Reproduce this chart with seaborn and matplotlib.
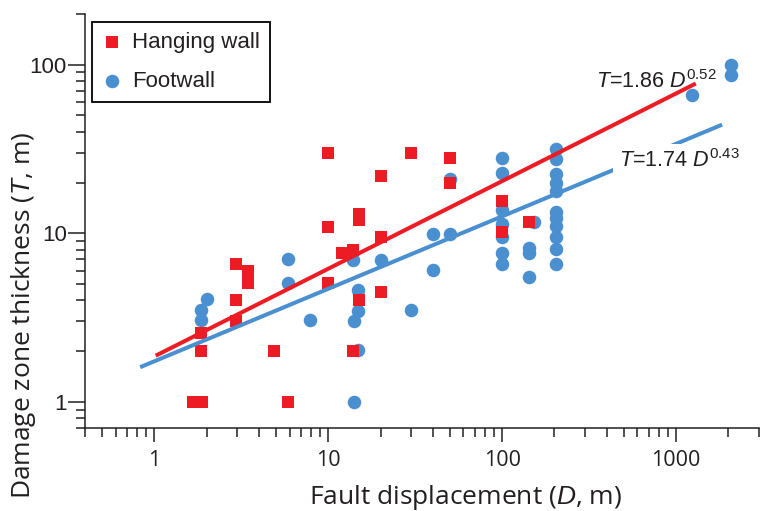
import matplotlib
matplotlib.use('Agg')
import matplotlib.pyplot as plt
import seaborn as sns
import numpy as np
import pandas as pd
from matplotlib.ticker import LogLocator, FuncFormatter, NullFormatter

# ---------------- data ----------------
hw_D = [1.68, 1.88, 1.86, 1.86, 2.97, 2.97, 2.97, 3.45, 3.45, 4.9, 5.9,
        10, 10, 10, 12.0, 13.9, 13.9, 15, 15, 15, 20, 20, 20, 30, 50, 50,
        100, 100, 143]
hw_T = [1.0, 1.0, 2.0, 2.57, 3.0, 4.0, 6.6, 6.0, 5.06, 2.0, 1.0,
        10.9, 5.06, 30, 7.66, 8.0, 2.0, 13.1, 12.0, 4.0, 21.9, 9.5, 4.5, 30, 28, 20,
        15.6, 10.2, 11.7]

fw_D = [1.85, 1.85, 2.0, 5.9, 5.9, 7.84, 13.9, 14.1, 14.9, 14.9, 14.9, 14.0,
        20, 30, 40, 40, 50.5, 50.5,
        100, 100, 100, 100, 100, 100, 100,
        152, 143, 143, 143,
        205, 205, 205, 205, 205, 205, 205, 205, 205, 205, 205,
        1237, 2060, 2060]
fw_T = [3.04, 3.52, 4.07, 7.03, 5.06, 3.05, 6.94, 3.03, 4.58, 3.44, 2.03, 1.0,
        6.94, 3.52, 9.96, 6.06, 9.96, 21.0,
        28.1, 22.9, 13.7, 11.4, 9.5, 7.6, 6.58,
        11.7, 8.13, 7.6, 5.53,
        31.5, 27.5, 22.6, 20.0, 17.9, 13.3, 12.4, 11.0, 9.5, 8.05, 6.57,
        66.3, 99.6, 87]

# power-law fits T = a * D^b, drawn over the D range shown
hw_fit = {'a': 1.86, 'b': 0.52, 'D': [1.02, 1300]}
fw_fit = {'a': 1.74, 'b': 0.43, 'D': [0.83, 1840]}

# ---------------- style ----------------
sns.set_style('ticks')
plt.rcParams['font.family'] = ['Liberation Sans', 'DejaVu Sans']
plt.rcParams['mathtext.fontset'] = 'custom'
plt.rcParams['mathtext.rm'] = 'Liberation Sans'
plt.rcParams['mathtext.it'] = 'Liberation Sans:italic'
plt.rcParams['mathtext.bf'] = 'Liberation Sans:bold'

RED = '#ED1C24'
BLUE = '#4A8FD0'
INK = '#231F20'

fig = plt.figure(figsize=(7.6, 5.11), dpi=100)
ax = fig.add_axes([85 / 760, 83 / 511, 674 / 760, 414 / 511])
ax.set_xscale('log')
ax.set_yscale('log')

hw = pd.DataFrame({'D': hw_D, 'T': hw_T})
fw = pd.DataFrame({'D': fw_D, 'T': fw_T})

sns.scatterplot(data=fw, x='D', y='T', marker='o', s=95, color=BLUE,
                linewidth=0, label='Footwall', zorder=3, ax=ax)
sns.scatterplot(data=hw, x='D', y='T', marker='s', s=80, color=RED,
                linewidth=0, label='Hanging wall', zorder=4, ax=ax)

for fit, col in ((hw_fit, RED), (fw_fit, BLUE)):
    d = np.array(fit['D'], dtype=float)
    t = fit['a'] * d ** fit['b']
    sns.lineplot(x=d, y=t, color=col, linewidth=2.9, zorder=5, ax=ax,
                 solid_capstyle='butt')

ax.text(345, 73, r'$T$=1.86 $D^{0.52}$', fontsize=15.5, color=INK,
        ha='left', va='baseline', zorder=6)
ax.text(469, 24.8, r'$T$=1.74 $D^{0.43}$', fontsize=15.5, color=INK,
        ha='left', va='baseline', zorder=6,
        bbox=dict(boxstyle='square,pad=0.25', fc='white', ec='none'))

ax.set_xlim(0.4, 3000)
ax.set_ylim(0.7, 200)

fmt = FuncFormatter(lambda v, p: f'{v:g}')
ax.xaxis.set_major_locator(LogLocator(base=10, subs=(1.0,)))
ax.xaxis.set_minor_locator(LogLocator(base=10, subs=np.arange(2, 10), numticks=20))
ax.yaxis.set_major_locator(LogLocator(base=10, subs=(1.0,)))
ax.yaxis.set_minor_locator(LogLocator(base=10, subs=np.arange(2, 10), numticks=20))
ax.xaxis.set_major_formatter(fmt)
ax.yaxis.set_major_formatter(fmt)
ax.xaxis.set_minor_formatter(NullFormatter())
ax.yaxis.set_minor_formatter(NullFormatter())

for s in ('top', 'right'):
    ax.spines[s].set_visible(False)
for s in ('left', 'bottom'):
    ax.spines[s].set_linewidth(1.1)
    ax.spines[s].set_color(INK)

ax.tick_params(axis='x', which='major', length=10, width=1.1, color=INK,
               labelsize=15.5, labelcolor=INK, pad=6, labelfontfamily='Open Sans')
ax.tick_params(axis='x', which='minor', length=6.5, width=1.1, color=INK)
ax.tick_params(axis='y', which='major', length=12, width=1.1, color=INK,
               labelsize=16, labelcolor=INK, pad=1)
ax.tick_params(axis='y', which='minor', length=6.5, width=1.1, color=INK)

ax.set_xlabel('Fault displacement ($D$, m)', fontfamily='Open Sans',
              fontsize=19, color=INK)
ax.set_ylabel('Damage zone thickness ($T$, m)', fontfamily='Open Sans',
              fontsize=19, color=INK)
ax.xaxis.set_label_coords(0.565, -0.132)
ax.yaxis.set_label_coords(-0.07, 0.272)

h, l = ax.get_legend_handles_labels()
order = [l.index('Hanging wall'), l.index('Footwall')]
leg = ax.legend([h[i] for i in order], [l[i] for i in order],
                loc='upper left', bbox_to_anchor=(7 / 674, 1 - 8 / 414),
                borderaxespad=0, frameon=True, fancybox=False,
                edgecolor='black', framealpha=1, fontsize=16,
                handletextpad=0.45, labelspacing=0.8, borderpad=0.45,
                handlelength=0.9)
leg.get_frame().set_linewidth(1.3)
for t in leg.get_texts():
    t.set_color(INK)

fig.savefig('out.png', dpi=100)
